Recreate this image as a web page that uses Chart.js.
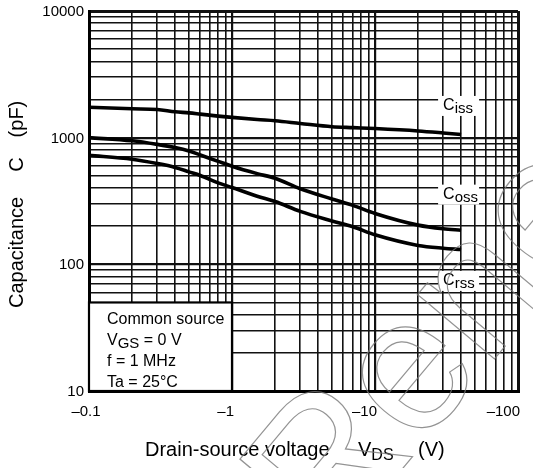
<!DOCTYPE html>
<html lang="en">
<head>
  <meta charset="UTF-8" />
  <title>Capacitance vs Drain-source voltage</title>
  <script src="https://cdn.jsdelivr.net/npm/chart.js"></script>
  <style>
    body { margin: 0; background: #fff; }
    canvas { display: block; }
  </style>
</head>
<body>
<canvas id="capChart" width="533" height="468"></canvas>

<script>
  // |VDS| in volts (axis shows them as negative)
  const vds = [0.1, 0.2, 0.3, 0.4, 0.5, 0.6, 0.8, 1, 1.5, 2, 3, 5, 7, 10, 20, 30, 40];
  const ciss = [1740, 1690, 1670, 1600, 1570, 1535, 1480, 1445, 1390, 1360, 1295, 1220, 1200, 1180, 1130, 1090, 1060];
  const coss = [1000, 945, 885, 835, 785, 730, 650, 595, 520, 478, 395, 328, 292, 252, 204, 191, 186];
  const crss = [725, 676, 625, 582, 537, 503, 440, 404, 345, 313, 262, 220, 198, 171, 141, 134, 131];

  const xDecades = [0.1, 1, 10, 100];
  const xTickText = ['\u20130.1', '\u20131', '\u201310', '\u2013100'];
  const yDecades = [10, 100, 1000, 10000];
  const yTickText = ['10', '100', '1000', '10000'];

  // where the curve names sit (value space)
  const curveNames = [
    { main: 'C', sub: 'iss', y: 1780 },
    { main: 'C', sub: 'oss', y: 355 },
    { main: 'C', sub: 'rss', y: 74 }
  ];
  const conditions = ['Common source', 'VGS = 0 V', 'f = 1 MHz', 'Ta = 25\u00B0C'];

  const FONT = '"Liberation Sans", Arial, Helvetica, sans-serif';

  function logGridTicks(lo, hi) {
    const out = [];
    for (let d = lo; d < hi; d *= 10) {
      for (let k = 1; k < 10; k++) out.push(+(k * d).toPrecision(3));
    }
    out.push(hi);
    return out;
  }

  function isDecade(v) {
    const l = Math.log10(v);
    return Math.abs(l - Math.round(l)) < 1e-6;
  }

  // frame edges heavy, decades medium, the rest thin
  function gridWidth(ctx) {
    if (!ctx.tick) return 1.6;
    const v = ctx.tick.value;
    const s = ctx.scale;
    if (v <= s.min * 1.0001 || v >= s.max * 0.9999) return 3;
    return isDecade(v) ? 2.2 : 1.6;
  }

  const toPoints = ys => vds.map((x, i) => ({ x: x, y: ys[i] }));

  function curve(ys) {
    return {
      data: toPoints(ys),
      borderColor: '#000',
      borderWidth: 3.6,
      pointRadius: 0,
      fill: false,
      cubicInterpolationMode: 'monotone'
    };
  }

  // text with a lowered tail, e.g. V + GS
  function subText(ctx, x, y, main, sub, rest, size, subSize, drop) {
    ctx.font = size + 'px ' + FONT;
    ctx.fillText(main, x, y);
    x += ctx.measureText(main).width;
    ctx.font = subSize + 'px ' + FONT;
    ctx.fillText(sub, x, y + drop);
    x += ctx.measureText(sub).width;
    if (rest) {
      ctx.font = size + 'px ' + FONT;
      ctx.fillText(rest, x, y);
      x += ctx.measureText(rest).width;
    }
    return x;
  }

  const decorations = {
    id: 'decorations',
    afterDraw(chart) {
      const ctx = chart.ctx;
      const xs = chart.scales.x;
      const ys = chart.scales.y;
      ctx.save();
      ctx.fillStyle = '#000';

      // conditions box in the lower left corner
      const bx0 = xs.getPixelForValue(0.1), bx1 = xs.getPixelForValue(1);
      const by0 = ys.getPixelForValue(50), by1 = ys.getPixelForValue(10);
      ctx.fillStyle = '#fff';
      ctx.fillRect(bx0, by0, bx1 - bx0, by1 - by0);
      ctx.strokeStyle = '#000';
      ctx.lineWidth = 2.2;
      ctx.strokeRect(bx0, by0, bx1 - bx0, by1 - by0);
      ctx.fillStyle = '#000';
      ctx.textBaseline = 'middle';
      ctx.textAlign = 'left';
      ctx.font = '16px ' + FONT;
      const tx = bx0 + 18;
      ctx.fillText(conditions[0], tx, by0 + 17);
      subText(ctx, tx, by0 + 38, 'V', 'GS', ' = 0 V', 16, 15, 3);
      ctx.font = '16px ' + FONT;
      ctx.fillText(conditions[2], tx, by0 + 59);
      ctx.fillText(conditions[3], tx, by0 + 80);

      // curve names with white backing
      const endX = xs.getPixelForValue(vds[vds.length - 1]);
      curveNames.forEach(n => {
        const cy = ys.getPixelForValue(n.y);
        ctx.fillStyle = '#fff';
        ctx.fillRect(endX - 23, cy - 10, 41, 20);
        ctx.fillStyle = '#000';
        subText(ctx, endX - 18, cy, n.main, n.sub, '', 16, 15, 3);
      });

      // tick labels
      ctx.font = '15px ' + FONT;
      ctx.textAlign = 'right';
      yDecades.forEach((v, i) => {
        ctx.fillText(yTickText[i], xs.left - 5, ys.getPixelForValue(v) + 1);
      });
      xDecades.forEach((v, i) => {
        const px = xs.getPixelForValue(v);
        if (i === 0) {
          ctx.textAlign = 'center';
          ctx.fillText(xTickText[i], px - 3, ys.bottom + 21);
        } else {
          ctx.textAlign = 'right';
          ctx.fillText(xTickText[i], px + 2, ys.bottom + 21);
        }
      });

      // axis titles
      ctx.textAlign = 'left';
      ctx.textBaseline = 'alphabetic';
      ctx.font = '20px ' + FONT;
      ctx.fillText('Drain-source voltage', 145, 456);
      subText(ctx, 358, 456, 'V', 'DS', '', 20, 16, 4);
      ctx.font = '20px ' + FONT;
      ctx.fillText('(V)', 418, 456);

      ctx.save();
      ctx.translate(23, 308);
      ctx.rotate(-Math.PI / 2);
      let p = 0;
      ['Capacitance', 'C', '(pF)'].forEach((s, i) => {
        ctx.fillText(s, p, 0);
        p += ctx.measureText(s).width + (i === 0 ? 25 : 20);
      });
      ctx.restore();

      // faint outlined stamp across the lower right
      ctx.translate(330, 555);
      ctx.rotate(-50 * Math.PI / 180);
      ctx.font = '190px ' + FONT;
      ctx.strokeStyle = 'rgba(120,120,120,0.8)';
      ctx.lineWidth = 1.2;
      ctx.strokeText('Renesas', 0, 0);
      ctx.restore();
    }
  };

  new Chart(document.getElementById('capChart'), {
    type: 'line',
    data: { datasets: [curve(ciss), curve(coss), curve(crss)] },
    options: {
      responsive: false,
      animation: false,
      layout: { padding: { left: 89, right: 15, top: 11, bottom: 77 } },
      plugins: { legend: { display: false }, tooltip: { enabled: false } },
      scales: {
        x: {
          type: 'logarithmic',
          min: 0.1,
          max: 100,
          afterBuildTicks: s => { s.ticks = logGridTicks(0.1, 100).map(v => ({ value: v })); },
          ticks: { display: false },
          grid: { color: '#111', lineWidth: gridWidth, drawTicks: false },
          border: { display: true, color: '#000', width: 3 }
        },
        y: {
          type: 'logarithmic',
          min: 10,
          max: 10000,
          afterBuildTicks: s => { s.ticks = logGridTicks(10, 10000).map(v => ({ value: v })); },
          ticks: { display: false },
          grid: { color: '#111', lineWidth: gridWidth, drawTicks: false },
          border: { display: true, color: '#000', width: 3 }
        }
      }
    },
    plugins: [decorations]
  });
</script>
</body>
</html>
